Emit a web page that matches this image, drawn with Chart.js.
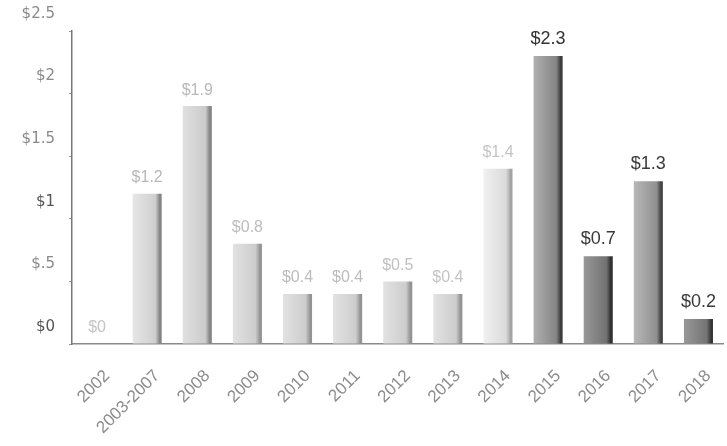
<!DOCTYPE html>
<html>
<head>
<meta charset="utf-8">
<script src="https://cdn.jsdelivr.net/npm/chart.js@4.4.1/dist/chart.umd.min.js"></script>
<style>
  html,body{margin:0;padding:0;background:#fff;}
  #wrap{width:727px;height:446px;position:relative;}
</style>
</head>
<body>
<div id="wrap"><canvas id="chart"></canvas></div>
<script>
// data
const years = ['2002','2003-2007','2008','2009','2010','2011','2012','2013','2014','2015','2016','2017','2018'];
const amounts = [0, 1.2, 1.9, 0.8, 0.4, 0.4, 0.5, 0.4, 1.4, 2.3, 0.7, 1.3, 0.2];
const amountLabels = ['$0','$1.2','$1.9','$0.8','$0.4','$0.4','$0.5','$0.4','$1.4','$2.3','$0.7','$1.3','$0.2'];
const yTicks = [0, 0.5, 1, 1.5, 2, 2.5];
const yTickLabels = ['$0','$.5','$1','$1.5','$2','$2.5'];

// bar shading: left, middle, right edge
const light = ['#e6e6e6','#cfcfcf','#858585'];
const mid = ['#e2e2e2','#cdcdcd','#949494'];
const shades = [light, light, ['#e0e0e0','#cbcbcb','#848484'], mid, mid, mid, mid, mid, ['#f0f0f0','#dadada','#a4a4a4'],
  ['#b0b0b0','#858585','#3c3c3c'], ['#989898','#727272','#303030'], ['#b8b8b8','#909090','#444'], ['#989898','#747474','#363636']];
const labelColors = ['#c4c4c4','#b8b8b8','#b8b8b8','#bcbcbc','#bcbcbc','#bcbcbc','#c0c0c0','#c4c4c4','#c4c4c4','#333','#3a3a3a','#3a3a3a','#3a3a3a'];
const BAR_FRAC = 0.58;

const valueLabels = {
  id:'valueLabels',
  afterDatasetsDraw(chart){
    const c = chart.ctx;
    const meta = chart.getDatasetMeta(0);
    c.save();
    c.textAlign = 'center';
    c.textBaseline = 'bottom';
    meta.data.forEach((bar,i)=>{
      c.font = (i>=9 ? '18px' : '16px') + ' "Liberation Sans", Arial, sans-serif';
      c.fillStyle = labelColors[i];
      c.fillText(amountLabels[i], bar.x, bar.y - 8);
    });
    c.restore();
  }
};

new Chart(document.getElementById('chart'), {
  type:'bar',
  data:{
    labels: years,
    datasets:[{
      data: amounts,
      barPercentage: BAR_FRAC,
      categoryPercentage: 1,
      borderWidth: 0,
      backgroundColor: ctx => {
        const chart = ctx.chart;
        if(!chart.chartArea || ctx.type !== 'data') return '#ccc';
        const xs = chart.scales.x;
        const cx = xs.getPixelForValue(ctx.dataIndex);
        const w = xs.width / years.length * BAR_FRAC;
        const g = chart.ctx.createLinearGradient(cx - w/2, 0, cx + w/2, 0);
        const [a,b,e] = shades[ctx.dataIndex];
        g.addColorStop(0, a); g.addColorStop(0.78, b); g.addColorStop(0.93, e); g.addColorStop(1, e);
        return g;
      }
    }]
  },
  options:{
    responsive:true,
    maintainAspectRatio:false,
    animation:false,
    layout:{padding:{top:31, right:3, left:0, bottom:0}},
    plugins:{legend:{display:false}, tooltip:{enabled:false}},
    scales:{
      x:{
        grid:{display:false},
        border:{display:true, color:'#8a8a8a', width:1.5},
        ticks:{
          color:'#8c8c8c',
          font:{family:'"Liberation Sans", Arial, sans-serif', size:17},
          minRotation:45, maxRotation:45, padding:14, labelOffset:10
        },
        afterFit: s => { s.height = 102; }
      },
      y:{
        min:0, max:2.5,
        afterBuildTicks: s => { s.ticks = yTicks.map(v=>({value:v})); },
        grid:{display:true, drawOnChartArea:false, tickLength:3, color:'#999'},
        border:{display:true, color:'#777', width:1.5},
        ticks:{
          color: ctx => (ctx.tick && (ctx.tick.value===1 || ctx.tick.value===0)) ? '#555' : '#8a8a8a',
          font:{family:'"DejaVu Sans", sans-serif', size:15},
          padding:14,
          labelOffset:-17,
          callback: v => yTickLabels[yTicks.indexOf(v)]
        },
        afterFit: s => { s.width = 72; }
      }
    }
  },
  plugins:[valueLabels]
});
</script>
</body>
</html>
